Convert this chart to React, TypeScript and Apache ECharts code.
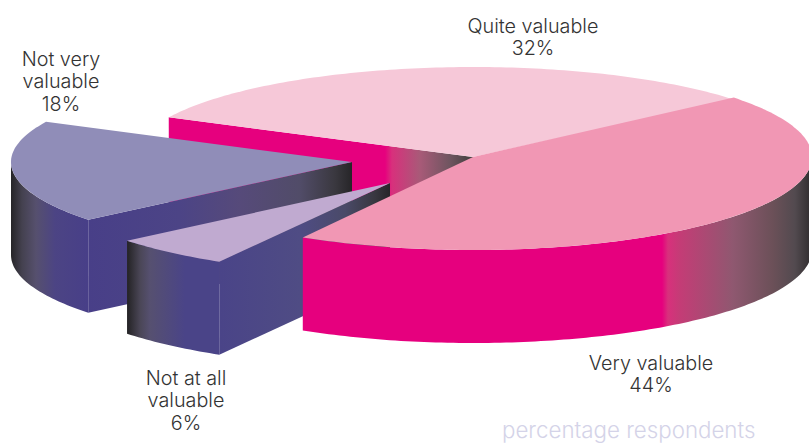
import React, { useEffect, useRef } from "react";
import * as echarts from "echarts";

const categories = ["Quite valuable", "Not very\nvaluable", "Not at all\nvaluable", "Very valuable"];
const values = [31.7, 18.2, 5.7, 44.4];
const footnote = "percentage respondents";

const W = 809, H = 443;
const START = 39.7;
const DEPTH = 93;
const FONT = "Inter";

const centers = [[473, 157], [352, 162], [390, 183], [473, 157]];
const radiiX = [339, 341, 340, 339];
const radiiY = [90, 91, 91, 93];
const labelPos = [[533, 37], [61, 81], [186, 400], [651, 374]];
const topColors = ["#f6c8d8", "#908db8", "#c0aad0", "#f197b4"];
const MAG = "#e6007e", PUR = "#4a4488", DK = "#262528";
const faceStops: any[] = [
  [[385, MAG], [392, "#d8307c"], [420, "#a85a78"], [450, "#6f5560"], [472, "#43403f"]],
  [[87, "#483f88"], [180, "#4c4486"], [240, "#564a7a"], [300, "#514c68"], [335, "#3a383f"], [352, DK]],
  [[220, PUR], [300, "#4f4c84"], [345, "#4a4a68"], [375, "#38373f"], [390, DK]],
  null,
];
const wallStops: any[] = [
  null,
  [[11, DK], [22, "#44414f"], [36, "#56506e"], [55, "#4c4484"], [87, "#483f88"]],
  [[128, DK], [140, "#4a4656"], [150, "#565070"], [185, PUR], [220, PUR]],
  [[300, MAG], [662, MAG], [668, "#d8307c"], [680, "#c43c76"], [733, "#8f5870"], [773, "#6b5058"], [795, "#524a4f"], [809, "#353133"]],
];

const grad = (stops: any[]) =>
  new echarts.graphic.LinearGradient(0, 0, W, 0,
    stops.map(([x, c]: any) => ({ offset: x / W, color: c })), true as any);

const rad = (d: number) => (d * Math.PI) / 180;
const pt = (c: number[], rx: number, ry: number, t: number, dy = 0) => [c[0] + rx * Math.cos(rad(t)), c[1] - ry * Math.sin(rad(t)) + dy];
const arc = (c: number[], rx: number, ry: number, a: number, b: number, dy = 0) => {
  const n = Math.max(2, Math.ceil(Math.abs(b - a) / 1));
  const out: number[][] = [];
  for (let i = 0; i <= n; i++) out.push(pt(c, rx, ry, a + ((b - a) * i) / n, dy));
  return out;
};

function renderItem(params: any, api: any) {
  const i = params.dataIndex;
  const prior = values.slice(0, i).reduce((a, b) => a + b, 0);
  const t0 = START + (prior / 100) * 360;
  const t1 = t0 + (api.value(0) / 100) * 360;
  const c = centers[i];
  const rx = radiiX[i];
  const ry = radiiY[i];
  const children: any[] = [];
  if (faceStops[i]) {
    const e = pt(c, rx, ry, t1);
    children.push({
      type: "polygon",
      shape: { points: [c, e, [e[0], e[1] + DEPTH], [c[0], c[1] + DEPTH]] },
      style: { fill: grad(faceStops[i]) },
    });
  }
  const wa = Math.max(t0, 180), wb = Math.min(t1, 360);
  if (wallStops[i] && wb > wa) {
    children.push({
      type: "polygon",
      shape: { points: [...arc(c, rx, ry, wa, wb), ...arc(c, rx, ry, wb, wa, DEPTH)] },
      style: { fill: grad(wallStops[i]) },
    });
  }
  children.push({
    type: "polygon",
    shape: { points: [c, ...arc(c, rx, ry, t0, t1)] },
    style: { fill: topColors[i] },
  });
  children.push({
    type: "text",
    x: labelPos[i][0],
    y: labelPos[i][1],
    style: {
      text: `${categories[i]}\n${Math.round(api.value(0))}%`,
      fill: "#333",
      fontFamily: FONT,
      fontWeight: 300,
      fontSize: 19.8,
      lineHeight: 22.5,
      align: "center",
      verticalAlign: "middle",
    },
  });
  return { type: "group", children };
}

export default function App() {
  const ref = useRef<HTMLDivElement>(null);
  useEffect(() => {
    document.body.style.margin = "0";
    const chart = echarts.init(ref.current!, null, { renderer: "svg" });
    chart.setOption({
      animation: false,
      backgroundColor: "#fff",
      series: [{ type: "custom", coordinateSystem: "none", renderItem, data: values, silent: true }],
      graphic: [{
        type: "text",
        left: 502,
        top: 418,
        style: { text: footnote, fill: "#d4d3e8", fontFamily: FONT, fontWeight: 300, fontSize: 22.3 },
      }],
    });
    return () => chart.dispose();
  }, []);
  return <div ref={ref} style={{ width: W, height: H }} />;
}
